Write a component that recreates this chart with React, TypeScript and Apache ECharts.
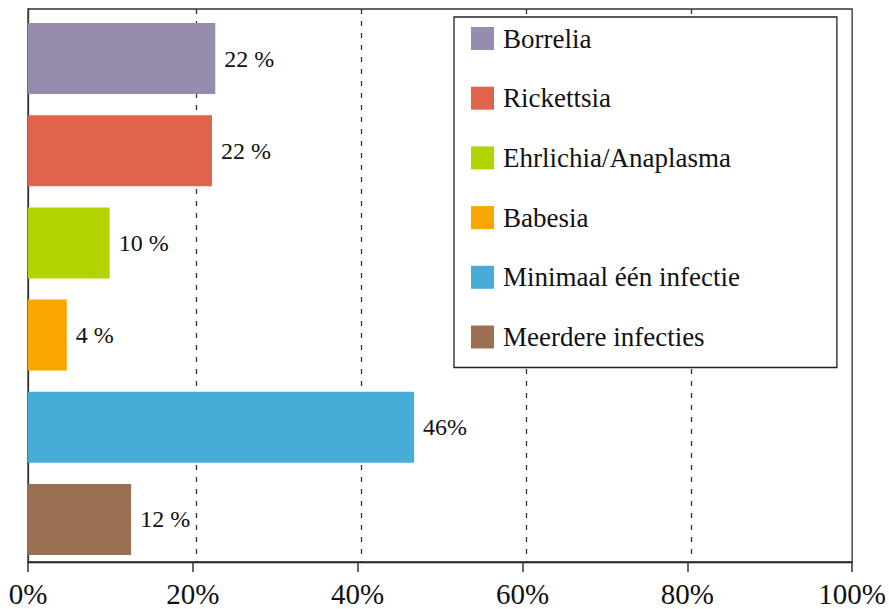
import React, { useEffect, useRef } from "react";
import * as echarts from "echarts";

const categories = [
  "Borrelia",
  "Rickettsia",
  "Ehrlichia/Anaplasma",
  "Babesia",
  "Minimaal één infectie",
  "Meerdere infecties",
];
const values = [22.7, 22.3, 9.9, 4.7, 46.8, 12.5];
const labelTexts = ["22 %", "22 %", "10 %", "4 %", "46%", "12 %"];
const colors = ["#978cae", "#e0634c", "#b3d400", "#f8a700", "#47acd8", "#9b7052"];
const xTicks = [0, 20, 40, 60, 80, 100];

const FONT = "Liberation Serif";

export default function App() {
  const ref = useRef<HTMLDivElement>(null);
  useEffect(() => {
    if (!ref.current) return;
    const chart = echarts.init(ref.current, undefined, { renderer: "svg" });
    const series = categories.map((name, i) => ({
      name,
      type: "bar",
      stack: "all",
      xAxisIndex: 1,
      yAxisIndex: 1,
      barCategoryGap: "23%",
      itemStyle: { color: colors[i] },
      data: categories.map((_, j) => (j === i ? values[i] : "-")),
      label: {
        show: true,
        position: "right",
        distance: 9,
        fontFamily: FONT,
        fontSize: 24,
        color: "#111",
        formatter: () => labelTexts[i],
      },
    }));
    chart.setOption({
      animation: false,
      textStyle: { fontFamily: FONT },
      grid: [
        {
          left: 28,
          right: 36,
          top: 9,
          bottom: 47,
          show: true,
          borderColor: "#333",
          borderWidth: 1.3,
          backgroundColor: "transparent",
        },
        { left: 28, right: 36, top: 12.5, bottom: 43.5 },
        { left: 31, right: 33, top: 9, bottom: 47 },
      ],
      legend: {
        orient: "vertical",
        left: 454,
        top: 17,
        data: categories,
        backgroundColor: "#fff",
        borderColor: "#222",
        borderWidth: 1.3,
        padding: [8, 97, 17, 17],
        itemWidth: 23,
        itemHeight: 23,
        itemGap: 32.7,
        icon: "rect",
        selectedMode: false,
        textStyle: {
          fontFamily: FONT,
          fontSize: 27,
          color: "#111",
          padding: [0, 0, 0, 4],
        },
      },
      xAxis: [
        {
          type: "value",
          gridIndex: 0,
          min: 0,
          max: 100,
          interval: 20,
          axisLine: { show: true, lineStyle: { color: "#222", width: 1.3 } },
          axisTick: { show: true, length: 10, lineStyle: { color: "#333", width: 1.5 } },
          axisLabel: {
            fontFamily: FONT,
            fontSize: 29,
            color: "#111",
            margin: 17,
            formatter: (v: number) => (xTicks.includes(v) ? v + "%" : ""),
          },
          splitLine: { show: false },
        },
        {
          type: "value",
          gridIndex: 1,
          min: 0,
          max: 100,
          interval: 20,
          show: false,
          splitLine: { show: false },
        },
        {
          type: "value",
          gridIndex: 2,
          min: 0,
          max: 100,
          interval: 20,
          axisLine: { show: false },
          axisTick: { show: false },
          axisLabel: { show: false },
          splitLine: {
            show: true,
            showMinLine: false,
            showMaxLine: false,
            lineStyle: { color: "#333", width: 1.3, type: [5, 7] },
          },
        },
      ],
      yAxis: [
        {
          type: "category",
          gridIndex: 0,
          data: categories,
          inverse: true,
          axisLine: { show: true, lineStyle: { color: "#333", width: 1.3 } },
          axisTick: { show: false },
          axisLabel: { show: false },
          splitLine: { show: false },
        },
        {
          type: "category",
          gridIndex: 1,
          data: categories,
          inverse: true,
          show: false,
          splitLine: { show: false },
        },
        {
          type: "category",
          gridIndex: 2,
          data: categories,
          inverse: true,
          show: false,
          splitLine: { show: false },
        },
      ],
      series,
    });
    return () => chart.dispose();
  }, []);
  return <div ref={ref} style={{ width: 889, height: 609, position: "absolute", left: 0, top: 0 }} />;
}
